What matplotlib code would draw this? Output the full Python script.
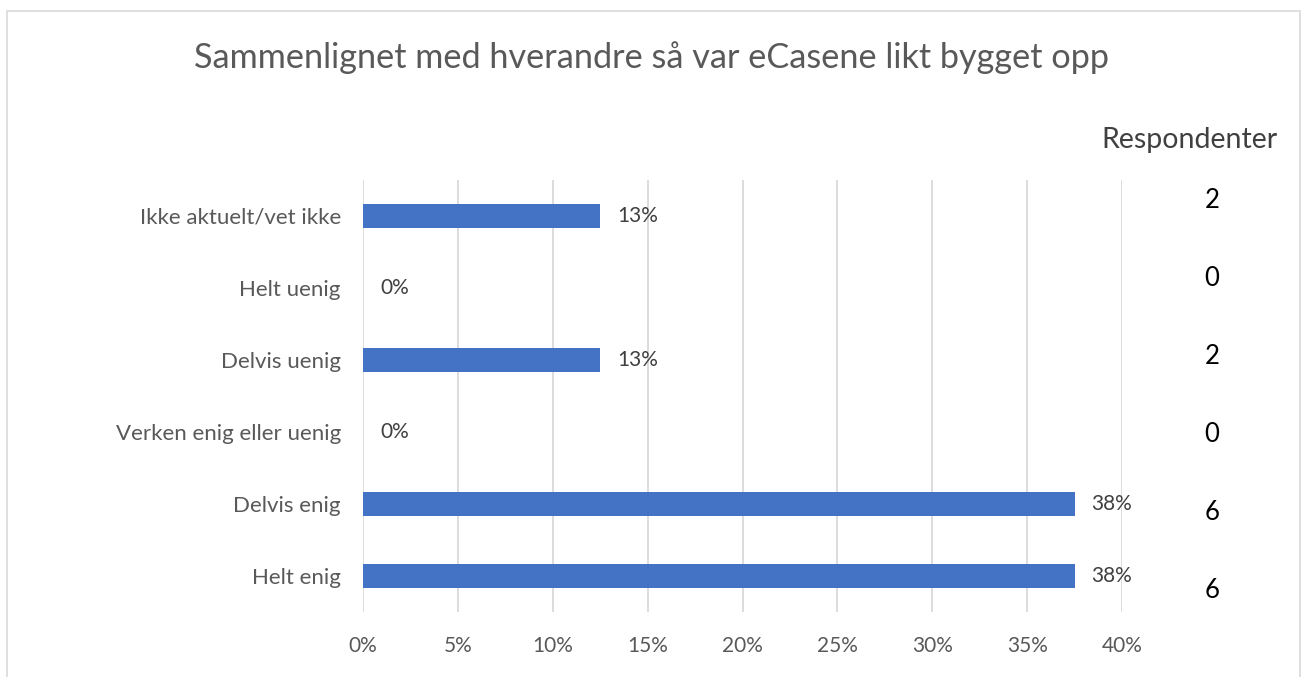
import matplotlib.pyplot as plt
import numpy as np
import math

# Survey data (16 respondents)
categories = ["Helt enig", "Delvis enig", "Verken enig eller uenig",
              "Delvis uenig", "Helt uenig", "Ikke aktuelt/vet ikke"]
respondents = [6, 6, 0, 2, 0, 2]
total = sum(respondents)
shares = [r / total * 100 for r in respondents]
xticks = [0, 5, 10, 15, 20, 25, 30, 35, 40]

plt.rcParams["font.family"] = ["Lato", "DejaVu Sans"]

fig = plt.figure(figsize=(13.03, 6.77), dpi=100)
ax = fig.add_axes([363 / 1303, 1 - 612 / 677, (1122 - 363) / 1303, (612 - 180) / 677])

y = np.arange(len(categories))
ax.barh(y, shares, height=0.34, color="#4472C4", zorder=3)

for yi, s in zip(y, shares):
    ax.text(s + 0.9, yi, f"{math.floor(s + 0.5)}%", va="center", ha="left",
            fontsize=15, color="#404040")

ax.set_xlim(0, 40)
ax.set_ylim(-0.5, len(categories) - 0.5)
ax.set_xticks(xticks)
ax.set_xticklabels([f"{t}%" for t in xticks], fontsize=15, color="#595959")
ax.set_yticks(y)
ax.set_yticklabels(categories, fontsize=16, color="#595959")
ax.tick_params(length=0, pad=16, axis="y")
ax.tick_params(length=0, pad=17, axis="x")
ax.grid(axis="x", color="#d9d9d9", linewidth=1.3, zorder=0)
for sp in ax.spines.values():
    sp.set_visible(False)

# Respondent counts on the right
fig.text(1189 / 1303, 1 - 140 / 677, "Respondenter", ha="center", va="center",
         fontsize=20.5, color="#404040")
count_y = np.linspace(200, 591, len(categories))[::-1]
for cy, r in zip(count_y, respondents):
    fig.text(1212 / 1303, 1 - cy / 677, str(r), ha="center", va="center",
             fontsize=18.5, color="black")

fig.text(0.5, 1 - 58 / 677, "Sammenlignet med hverandre så var eCasene likt bygget opp",
         ha="center", va="center", fontsize=24.7, color="#595959")

# Light frame around the chart area
fig.add_artist(plt.Rectangle((7 / 1303, -0.01), (1300 - 7) / 1303, 1 - 11 / 677 + 0.01,
                             transform=fig.transFigure, fill=False,
                             edgecolor="#d9d9d9", linewidth=1.2))

fig.savefig("out.png", dpi=100)
